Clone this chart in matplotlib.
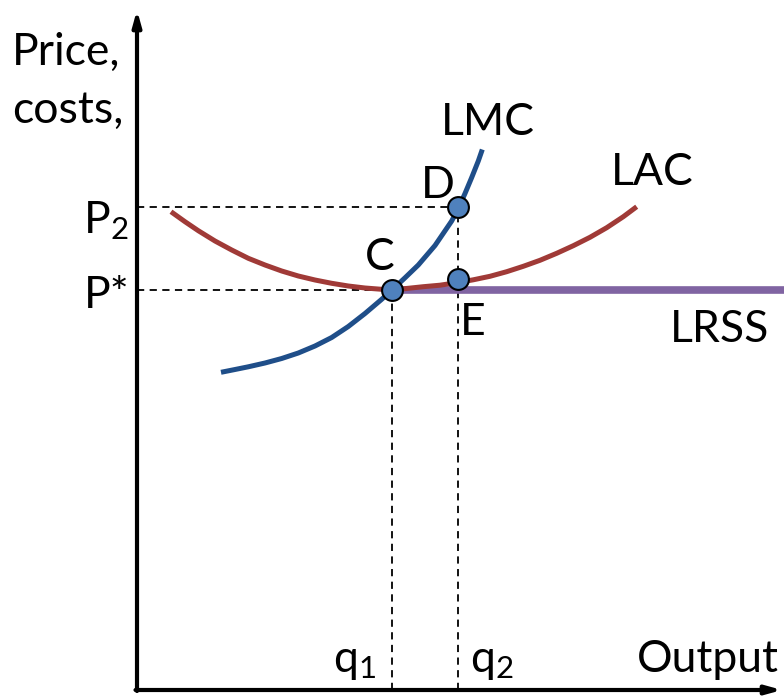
import matplotlib.pyplot as plt

plt.rcParams["font.family"] = ["Lato", "DejaVu Sans"]
plt.rcParams["mathtext.fontset"] = "custom"
plt.rcParams["mathtext.rm"] = "Lato"
plt.rcParams["mathtext.it"] = "Lato"

# Key levels (output, price), origin at the axes corner
q1, q2 = 255, 321
p_star, p2 = 400, 483

# Long-run average cost curve
lac_x = [34, 48, 61.3, 78, 94.7, 111.3, 128, 144.7, 161.3, 178, 194.7, 211.3, 228,
         244.7, 255, 286.3, 303, 319.7, 336.3, 353, 369.7, 386.3, 403, 419.7,
         436.3, 453, 469.7, 486.3, 499.7]
lac_y = [478.3, 468.3, 459.3, 449, 440, 431.7, 425, 419, 414, 410, 406.7, 404, 402,
         400.7, 400, 403.3, 404.8, 407.3, 410.2, 413.7, 418.3, 423.7, 429.7, 436.7,
         444.3, 452.7, 462.3, 473.3, 483.3]

# Long-run marginal cost curve
lmc_x = [84, 98, 111.3, 128, 144.7, 161.3, 178, 194.7, 211.3, 228, 244.7, 255,
         268, 281.3, 298, 314.7, 321.5, 328, 334.7, 341.3, 345.3]
lmc_y = [317.7, 320.5, 323.2, 327, 331.5, 337, 344, 352.5, 363.5, 376.5, 390.7, 400,
         412.2, 425, 444.5, 469, 482, 496.5, 512.5, 529, 540.5]

# Long-run supply (horizontal at P*)
lrss_x = [q1, 647]
lrss_y = [p_star, p_star]

# Highlighted points C, D, E
pts_x = [q1, q2, q2]
pts_y = [p_star, p2, 411]

fig = plt.figure(figsize=(7.84, 6.97), dpi=100)
ax = fig.add_axes([0, 0, 1, 1])
ax.set_xlim(-137, 647)
ax.set_ylim(-7, 690)
ax.axis("off")

# Axes with arrows
ax.annotate("", xy=(0, 680), xytext=(0, -1),
            arrowprops=dict(arrowstyle="-|>,head_length=0.9,head_width=0.25",
                            color="black", lw=3, shrinkA=0, shrinkB=0))
ax.annotate("", xy=(645, 0), xytext=(-1.5, 0),
            arrowprops=dict(arrowstyle="-|>,head_length=0.9,head_width=0.25",
                            color="black", lw=3, shrinkA=0, shrinkB=0))

# Dashed guide lines
dash = dict(color="black", lw=1.3, linestyle=(0, (4, 3)))
ax.plot([0, q2], [p2, p2], **dash)
ax.plot([0, q1], [p_star, p_star], **dash)
ax.plot([q1, q1], [0, p_star], **dash)
ax.plot([q2, q2], [0, p2], **dash)

# Curves
ax.plot(lrss_x, lrss_y, color="#8064A2", lw=5.5, solid_capstyle="butt", zorder=3)
ax.plot(lac_x, lac_y, color="#A03A37", lw=3.6, solid_capstyle="butt",
        solid_joinstyle="round", zorder=4)
ax.plot(lmc_x, lmc_y, color="#1F4E89", lw=3.6, solid_capstyle="butt",
        solid_joinstyle="round", zorder=5)
ax.plot(pts_x, pts_y, "o", ms=15, mfc="#4F81BD", mec="black", mew=1.5, zorder=6)

fs = 32
txt = dict(fontsize=fs, va="baseline")
ax.text(-125, 625, "Price,", ha="left", **txt)
ax.text(-125, 567, "costs,", ha="left", **txt)
ax.text(350.5, 555, "LMC", ha="center", **txt)
ax.text(515.5, 505, "LAC", ha="center", **txt)
ax.text(301, 492, "D", ha="center", **txt)
ax.text(243, 420, "C", ha="center", **txt)
ax.text(336, 355, "E", ha="center", **txt)
ax.text(582.5, 348, "LRSS", ha="center", **txt)
ax.text(-9, 457, "P$_2$", ha="right", **txt)
ax.text(-7, 382, "P*", ha="right", **txt)
ax.text(196, 18, "q$_1$", ha="left", **txt)
ax.text(333, 18, "q$_2$", ha="left", **txt)
ax.text(500, 18, "Output", ha="left", **txt)

plt.savefig("out.png", dpi=100)
